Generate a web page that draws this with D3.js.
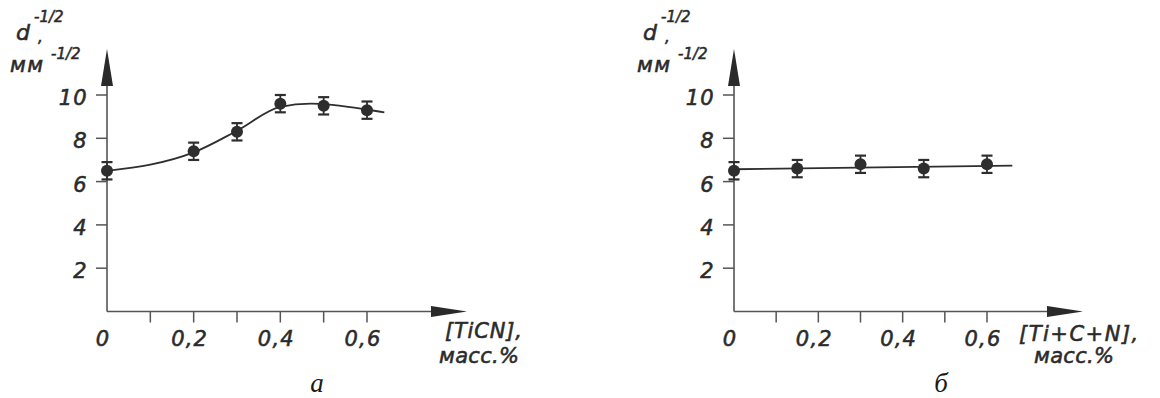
<!DOCTYPE html>
<html>
<head>
<meta charset="utf-8">
<script src="https://cdn.jsdelivr.net/npm/d3@7"></script>
<style>
  html, body { margin: 0; padding: 0; background: #fff; }
  svg { display: block; }
  .lbl { font-family: "DejaVu Sans", sans-serif; font-style: italic; fill: #2b2b2b; stroke: #2b2b2b; stroke-width: 0.55px; }
  .cap { font-family: "Liberation Serif", serif; font-style: italic; fill: #1a1a1a; }
</style>
</head>
<body>
<svg id="chart" width="1160" height="398"></svg>
<script>
// ---------------- data ----------------
const yTickValues = [2, 4, 6, 8, 10];
const xTickValues = [0, 0.1, 0.2, 0.3, 0.4, 0.5, 0.6];
const xTickLabels = ["0", "", "0,2", "", "0,4", "", "0,6"];

// panel а : [TiCN]
const tiCN_x = [0, 0.2, 0.3, 0.4, 0.5, 0.6];
const tiCN_y = [6.5, 7.4, 8.3, 9.6, 9.5, 9.3];
const tiCN_err = [0.4, 0.4, 0.4, 0.4, 0.4, 0.4];
// fitted trend line
const tiCN_fit_x = [0, 0.1, 0.2, 0.3, 0.4, 0.47, 0.6, 0.64];
const tiCN_fit_y = [6.5, 6.78, 7.35, 8.35, 9.45, 9.6, 9.33, 9.2];

// panel б : [Ti+C+N]
const tiCplusN_x = [0, 0.15, 0.3, 0.45, 0.6];
const tiCplusN_y = [6.5, 6.6, 6.8, 6.6, 6.8];
const tiCplusN_err = [0.4, 0.4, 0.4, 0.4, 0.4];
const tiCplusN_fit_x = [0, 0.66];
const tiCplusN_fit_y = [6.57, 6.74];

// ---------------- drawing ----------------
const svg = d3.select("#chart");
const axisColor = "#555";
const markColor = "#2e2e2e";

function panel(cfg) {
  const g = svg.append("g");
  const x = d3.scaleLinear().domain([0, 0.6]).range([cfg.x0, cfg.x06]);
  const y = d3.scaleLinear().domain([0, 10]).range([311.5, 95]);
  const xTip = cfg.xTip, yTip = 49;

  // axes lines
  g.append("line").attr("x1", x(0)).attr("x2", xTip - 30).attr("y1", y(0)).attr("y2", y(0))
    .attr("stroke", axisColor).attr("stroke-width", 1.6);
  g.append("line").attr("x1", x(0)).attr("x2", x(0)).attr("y1", y(0)).attr("y2", yTip + 30)
    .attr("stroke", axisColor).attr("stroke-width", 1.6);
  // arrows
  g.append("path")
    .attr("d", `M${xTip},${y(0)} L${xTip - 36},${y(0) - 5.5} L${xTip - 36},${y(0) + 5.5} Z`)
    .attr("fill", "#2a2a2a");
  g.append("path")
    .attr("d", `M${x(0)},${yTip} L${x(0) - 6},${yTip + 37} L${x(0) + 6},${yTip + 37} Z`)
    .attr("fill", "#2a2a2a");

  // y ticks
  const yt = g.selectAll(".yt").data(yTickValues).enter().append("g");
  yt.append("line").attr("x1", x(0) - 11).attr("x2", x(0)).attr("y1", d => y(d)).attr("y2", d => y(d))
    .attr("stroke", axisColor).attr("stroke-width", 1.5);
  yt.append("text").attr("class", "lbl")
    .attr("x", x(0) - 19).attr("y", d => y(d) + 10)
    .attr("text-anchor", "end").attr("font-size", 21).attr("letter-spacing", 1.3)
    .text(d => d);

  // x ticks
  const xt = g.selectAll(".xt").data(xTickValues).enter().append("g");
  xt.filter(d => d > 0).append("line").attr("x1", d => x(d)).attr("x2", d => x(d))
    .attr("y1", y(0)).attr("y2", y(0) + 11)
    .attr("stroke", axisColor).attr("stroke-width", 1.5);
  xt.append("text").attr("class", "lbl")
    .attr("x", d => x(d) - 4).attr("y", 346)
    .attr("text-anchor", "middle").attr("font-size", 21).attr("letter-spacing", 1.2)
    .text((d, i) => xTickLabels[i]);

  // fit line
  const fit = cfg.fitX.map((v, i) => [v, cfg.fitY[i]]);
  g.append("path").datum(fit)
    .attr("d", d3.line().x(d => x(d[0])).y(d => y(d[1])).curve(cfg.curve))
    .attr("fill", "none").attr("stroke", markColor).attr("stroke-width", 1.8);

  // points with error bars
  const pts = cfg.px.map((v, i) => ({ x: v, y: cfg.py[i], e: cfg.pe[i] }));
  const pg = g.selectAll(".pt").data(pts).enter().append("g");
  pg.append("line").attr("x1", d => x(d.x)).attr("x2", d => x(d.x))
    .attr("y1", d => y(d.y + d.e)).attr("y2", d => y(d.y - d.e))
    .attr("stroke", markColor).attr("stroke-width", 1.8);
  [1, -1].forEach(s => {
    pg.append("line").attr("x1", d => x(d.x) - 5.5).attr("x2", d => x(d.x) + 5.5)
      .attr("y1", d => y(d.y + s * d.e)).attr("y2", d => y(d.y + s * d.e))
      .attr("stroke", markColor).attr("stroke-width", 2.2);
  });
  pg.append("circle").attr("cx", d => x(d.x)).attr("cy", d => y(d.y)).attr("r", 6)
    .attr("fill", markColor);

  // y axis title
  const ax = x(0);
  const t1 = g.append("text").attr("class", "lbl");
  t1.append("tspan").attr("x", ax - 91).attr("y", 40).attr("font-size", 22).text("d");
  t1.append("tspan").attr("x", ax - 73).attr("y", 22).attr("font-size", 15).text("-1/2");
  t1.append("tspan").attr("x", ax - 69).attr("y", 42).attr("font-size", 15).text(",");
  const t2 = g.append("text").attr("class", "lbl");
  t2.append("tspan").attr("x", ax - 97).attr("y", 72).attr("font-size", 21).attr("letter-spacing", 1.5).text("мм");
  t2.append("tspan").attr("x", ax - 56).attr("y", 59).attr("font-size", 15).text("-1/2");

  // x axis title
  g.append("text").attr("class", "lbl").attr("x", cfg.xl1).attr("y", cfg.xl1y)
    .attr("font-size", 21).attr("letter-spacing", cfg.ls1).text(cfg.xTitle);
  g.append("text").attr("class", "lbl").attr("x", cfg.xl2).attr("y", 363)
    .attr("font-size", 21).attr("letter-spacing", 0.3).text("масс.%");

  // caption
  g.append("text").attr("class", "cap").attr("x", cfg.capX).attr("y", 392)
    .attr("text-anchor", "middle").attr("font-size", 27).text(cfg.caption);
}

panel({
  x0: 107, x06: 367, xTip: 467,
  px: tiCN_x, py: tiCN_y, pe: tiCN_err,
  fitX: tiCN_fit_x, fitY: tiCN_fit_y, curve: d3.curveMonotoneX,
  xTitle: "[TiCN],", xl1: 445, xl1y: 338, ls1: 0.8, xl2: 439,
  caption: "а", capX: 317
});
panel({
  x0: 734, x06: 987, xTip: 1083,
  px: tiCplusN_x, py: tiCplusN_y, pe: tiCplusN_err,
  fitX: tiCplusN_fit_x, fitY: tiCplusN_fit_y, curve: d3.curveLinear,
  xTitle: "[Ti+C+N],", xl1: 1019, xl1y: 341, ls1: 1.5, xl2: 1034,
  caption: "б", capX: 941
});
</script>
</body>
</html>
